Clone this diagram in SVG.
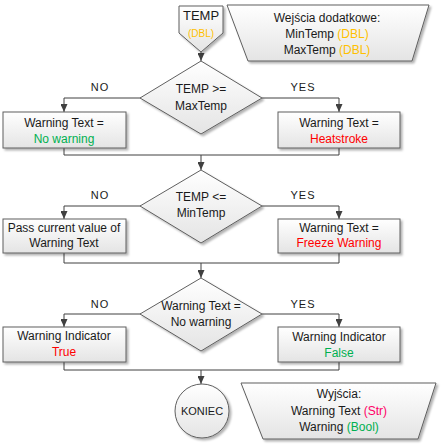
<svg xmlns="http://www.w3.org/2000/svg" width="442" height="444" viewBox="0 0 442 444">
<defs>
<linearGradient id="g" x1="0" y1="0" x2="0" y2="1">
<stop offset="0" stop-color="#ffffff"/>
<stop offset="1" stop-color="#e4e4e4"/>
</linearGradient>
<filter id="sh" x="-10%" y="-10%" width="130%" height="140%">
<feDropShadow dx="2" dy="2" stdDeviation="1" flood-color="#000" flood-opacity="0.3"/>
</filter>
<marker id="arr" markerUnits="userSpaceOnUse" viewBox="0 0 8 7" refX="8" refY="3.5" markerWidth="8" markerHeight="7" orient="auto">
<path d="M0,0 L8,3.5 L0,7 z" fill="#404040"/>
</marker>
</defs>
<style>
.s{fill:url(#g);stroke:#5f5f5f;stroke-width:1;filter:url(#sh)}
.t{font-family:"Liberation Sans",Arial,sans-serif;font-size:12px;fill:#1a1a1a;text-anchor:middle}
.l{font-family:"Liberation Sans",Arial,sans-serif;font-size:11px;fill:#1a1a1a;text-anchor:middle;letter-spacing:1px}
.c{fill:none;stroke:#404040;stroke-width:1}
.or{fill:#ffc000}
.gr{fill:#00b050}
.rd{fill:#ff0000}
.pk{fill:#ff0066}
</style>
<g id="connectors">
<path class="c" d="M201,51 L201,61" marker-end="url(#arr)"/>
<path class="c" d="M141,98 L64,98 L64,112" marker-end="url(#arr)"/>
<path class="c" d="M262,98 L339,98 L339,112" marker-end="url(#arr)"/>
<path class="c" d="M64,148 L64,155 L339,155 L339,148"/>
<path class="c" d="M201,155 L201,170" marker-end="url(#arr)"/>
<path class="c" d="M141,206 L64,206 L64,219" marker-end="url(#arr)"/>
<path class="c" d="M262,206 L339,206 L339,219" marker-end="url(#arr)"/>
<path class="c" d="M64,253 L64,263 L339,263 L339,253"/>
<path class="c" d="M201,263 L201,278" marker-end="url(#arr)"/>
<path class="c" d="M141,314 L64,314 L64,327" marker-end="url(#arr)"/>
<path class="c" d="M262,314 L339,314 L339,327" marker-end="url(#arr)"/>
<path class="c" d="M64,362 L64,370 L339,370 L339,362"/>
<path class="c" d="M201,370 L201,384" marker-end="url(#arr)"/>
<text class="l" x="100" y="91">NO</text>
<text class="l" x="303" y="91">YES</text>
<text class="l" x="100" y="199">NO</text>
<text class="l" x="303" y="199">YES</text>
<text class="l" x="100" y="308">NO</text>
<text class="l" x="303" y="308">YES</text>
</g>
<g id="temp">
<path class="s" d="M179,6 L223,6 L223,33 L201,52 L179,33 Z"/>
<text class="t" x="201" y="20" style="font-size:13px">TEMP</text>
<text class="t or" x="201" y="37" style="font-size:10px">(DBL)</text>
</g>
<g id="inputs">
<path class="s" d="M227,5 L429,5 L412,61 L248,61 Z"/>
<text class="t" x="327" y="22">Wejścia dodatkowe:</text>
<text class="t" x="327" y="38">MinTemp <tspan class="or">(DBL)</tspan></text>
<text class="t" x="327" y="54">MaxTemp <tspan class="or">(DBL)</tspan></text>
</g>
<g id="d1">
<path class="s" d="M201,61 L262,98 L201,134 L140,98 Z"/>
<text class="t" x="201" y="93">TEMP &gt;=</text>
<text class="t" x="201" y="110">MaxTemp</text>
</g>
<g id="b1l">
<rect class="s" x="3" y="112" width="123" height="36"/>
<text class="t" x="64" y="127">Warning Text =</text>
<text class="t gr" x="64" y="143">No warning</text>
</g>
<g id="b1r">
<rect class="s" x="278" y="112" width="122" height="36"/>
<text class="t" x="339" y="127">Warning Text =</text>
<text class="t rd" x="339" y="143">Heatstroke</text>
</g>
<g id="d2">
<path class="s" d="M201,170 L262,206 L201,243 L140,206 Z"/>
<text class="t" x="201" y="201">TEMP &lt;=</text>
<text class="t" x="201" y="217">MinTemp</text>
</g>
<g id="b2l">
<rect class="s" x="3" y="219" width="123" height="34"/>
<text class="t" x="64" y="232">Pass current value of</text>
<text class="t" x="64" y="247">Warning Text</text>
</g>
<g id="b2r">
<rect class="s" x="278" y="219" width="122" height="34"/>
<text class="t" x="339" y="232">Warning Text =</text>
<text class="t rd" x="339" y="247">Freeze Warning</text>
</g>
<g id="d3">
<path class="s" d="M201,278 L262,314 L201,351 L140,314 Z"/>
<text class="t" x="201" y="310">Warning Text =</text>
<text class="t" x="201" y="326">No warning</text>
</g>
<g id="b3l">
<rect class="s" x="3" y="327" width="123" height="35"/>
<text class="t" x="64" y="340">Warning Indicator</text>
<text class="t rd" x="64" y="356">True</text>
</g>
<g id="b3r">
<rect class="s" x="278" y="327" width="122" height="35"/>
<text class="t" x="339" y="341">Warning Indicator</text>
<text class="t gr" x="339" y="357">False</text>
</g>
<g id="end">
<circle class="s" cx="202" cy="411" r="27"/>
<text class="t" x="202" y="415" style="font-size:11px">KONIEC</text>
</g>
<g id="outputs">
<path class="s" d="M241,383 L436,383 L418,439 L263,439 Z"/>
<text class="t" x="339" y="398">Wyjścia:</text>
<text class="t" x="339" y="415">Warning Text <tspan class="pk">(Str)</tspan></text>
<text class="t" x="339" y="431">Warning <tspan class="gr">(Bool)</tspan></text>
</g>
</svg>
